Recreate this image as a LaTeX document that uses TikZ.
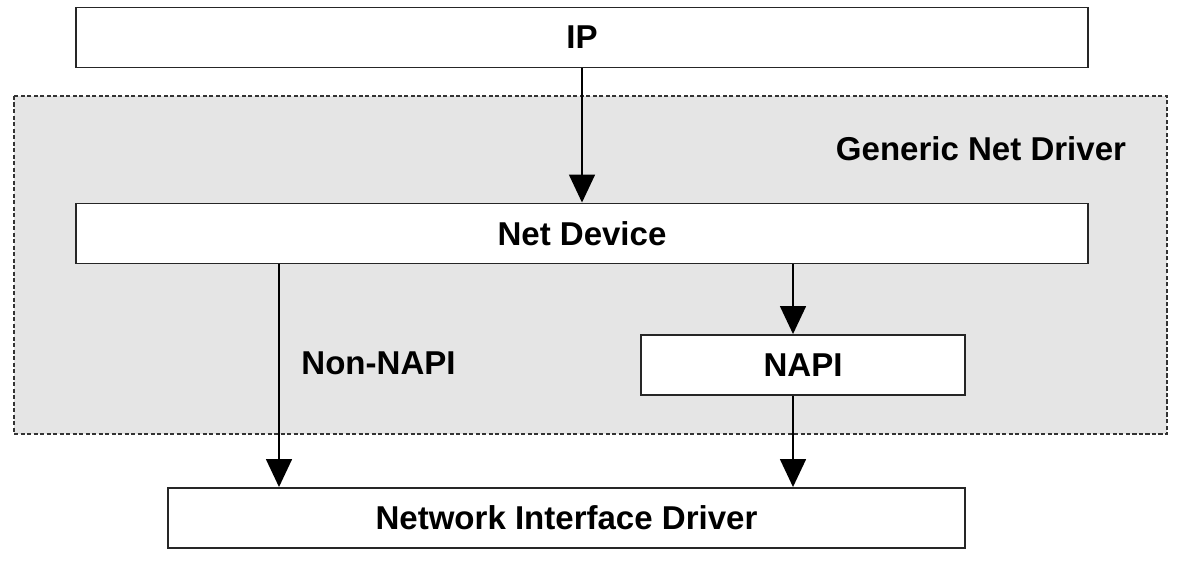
\documentclass[tikz,border=0pt]{standalone}
\usepackage{fontspec}
\setmainfont{Liberation Sans}
\usetikzlibrary{arrows.meta}

\begin{document}
\begin{tikzpicture}[line width=1.1pt,
    layer/.style={draw=black!85, fill=white, inner sep=0pt, minimum height=1.2cm,
        font=\bfseries\fontsize{18.8}{22}\selectfont},
    flow/.style={-{Triangle[width=0.52cm, length=0.56cm]}, line width=0.9pt},
    tag/.style={font=\bfseries\fontsize{18.8}{22}\selectfont}]

    % --- Frame ---
    \useasboundingbox (0,0) rectangle (23.96,-11.32);

    % --- Generic Net Driver region ---
    \coordinate (G1) at (0.28,-1.92);   % top-left corner
    \coordinate (G2) at (23.34,-8.68);  % bottom-right corner
    \draw[fill=black!10, draw=black!80, line width=0.8pt,
        dash pattern=on 2.3pt off 1.4pt] (G1) rectangle (G2);
    \node[tag] (gnd) at (19.62,-2.97) {Generic Net Driver};

    % --- Layers ---
    \node[layer, minimum width=20.24cm] (ip)     at (11.64,-0.75)  {IP};
    \node[layer, minimum width=20.24cm] (netdev) at (11.64,-4.67)  {Net Device};
    \node[layer, minimum width=6.48cm]  (napi)   at (16.06,-7.30)  {NAPI};
    \node[layer, minimum width=15.94cm] (nid)    at (11.33,-10.36) {Network Interface Driver};

    % --- Taps for the vertical paths ---
    \coordinate (bypass)  at (5.58,0);   % non-NAPI path
    \coordinate (napitap) at (15.86,0);  % NAPI path

    % --- Arrows ---
    \draw[flow] (ip) -- (netdev);
    \draw[flow] (netdev.south -| bypass) -- (nid.north -| bypass);
    \draw[flow] (netdev.south -| napitap) -- (napi.north -| napitap);
    \draw[flow] (napi.south -| napitap) -- (nid.north -| napitap);

    % --- Path label ---
    \node[tag] (nonnapi) at (7.57,-7.27) {Non-NAPI};

\end{tikzpicture}
\end{document}
